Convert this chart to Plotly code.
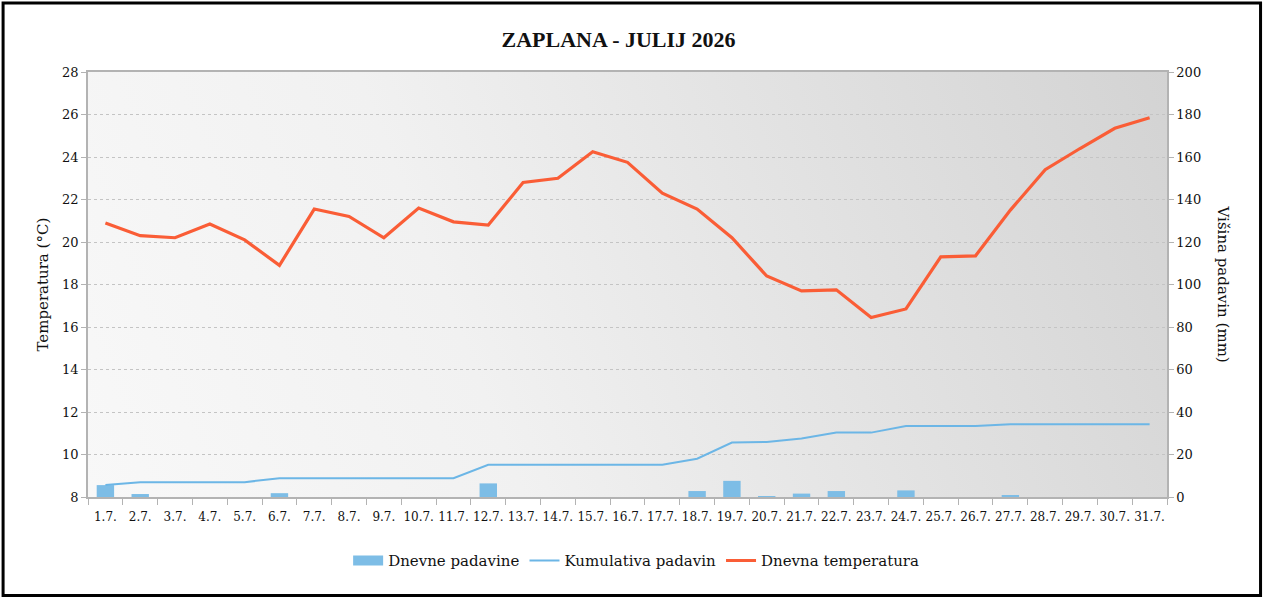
import base64
import plotly.graph_objects as go

days = ["1.7.", "2.7.", "3.7.", "4.7.", "5.7.", "6.7.", "7.7.", "8.7.", "9.7.", "10.7.",
        "11.7.", "12.7.", "13.7.", "14.7.", "15.7.", "16.7.", "17.7.", "18.7.", "19.7.", "20.7.",
        "21.7.", "22.7.", "23.7.", "24.7.", "25.7.", "26.7.", "27.7.", "28.7.", "29.7.", "30.7.", "31.7."]

daily_rain = [5.6, 1.4, 0, 0, 0, 1.8, 0, 0, 0, 0,
              0, 6.4, 0, 0, 0, 0, 0, 2.8, 7.6, 0.3,
              1.6, 2.8, 0, 3.1, 0, 0, 0.8, 0, 0, 0, 0]

cumulative_rain = [5.6, 7.0, 7.0, 7.0, 7.0, 8.8, 8.8, 8.8, 8.8, 8.8,
                   8.8, 15.2, 15.2, 15.2, 15.2, 15.2, 15.2, 18.0, 25.6, 25.9,
                   27.5, 30.3, 30.3, 33.4, 33.4, 33.4, 34.2, 34.2, 34.2, 34.2, 34.2]

temperature = [20.9, 20.3, 20.2, 20.85, 20.1, 18.9, 21.55, 21.2, 20.2, 21.6,
               20.95, 20.8, 22.8, 23.0, 24.25, 23.75, 22.3, 21.55, 20.2, 18.4,
               17.7, 17.75, 16.45, 16.85, 19.3, 19.35, 21.5, 23.4, 24.4, 25.35, 25.85]

FONT = "DejaVu Serif"
TITLE_FONT = "Liberation Serif"
TXT = "#111111"
AXC = "#b3b3b3"
BAR_COLOR = "#7dbde6"

fig = go.Figure()
fig.add_trace(go.Bar(x=days, y=daily_rain, name="Dnevne padavine", yaxis="y2", showlegend=False,
                     marker=dict(color=BAR_COLOR, line=dict(width=0)), width=0.5))
# legend swatch for bars (wide rectangle like the reference)
fig.add_trace(go.Scatter(x=[None], y=[None], name="Dnevne padavine", yaxis="y2", mode="lines",
                         line=dict(color=BAR_COLOR, width=12), hoverinfo="skip"))
fig.add_trace(go.Scatter(x=days, y=cumulative_rain, name="Kumulativa padavin", yaxis="y2",
                         mode="lines", line=dict(color="#6cb6e6", width=2)))
fig.add_trace(go.Scatter(x=days, y=temperature, name="Dnevna temperatura", yaxis="y",
                         mode="lines", line=dict(color="#fa5d36", width=3.2)))

svg = ("<svg xmlns='http://www.w3.org/2000/svg' width='1079' height='425' viewBox='0 0 1079 425' "
       "preserveAspectRatio='none'><defs><linearGradient id='g' gradientUnits='userSpaceOnUse' "
       "x1='0' y1='425' x2='1079' y2='0'><stop offset='0' stop-color='#f8f8f8'/>"
       "<stop offset='0.35' stop-color='#f1f1f1'/>"
       "<stop offset='1' stop-color='#d3d3d3'/></linearGradient></defs>"
       "<rect x='0' y='0' width='1079' height='425' fill='url(#g)'/></svg>")
src = "data:image/svg+xml;base64," + base64.b64encode(svg.encode()).decode()

fig.update_layout(
    width=1265, height=600,
    margin=dict(l=88, r=98, t=72, b=103),
    paper_bgcolor="white", plot_bgcolor="rgba(0,0,0,0)",
    font=dict(family=FONT, color=TXT, size=13),
    title=dict(text="<b>ZAPLANA - JULIJ 2026</b>", x=0.489, xanchor="center", y=0.935, yanchor="middle",
               font=dict(family=TITLE_FONT, size=22, color="#111111")),
    showlegend=True,
    legend=dict(orientation="h", x=0.508, xanchor="center", y=-0.15, yanchor="middle",
                font=dict(family=FONT, size=15, color="#111111"),
                bgcolor="rgba(0,0,0,0)", traceorder="normal"),
    xaxis=dict(type="category", showline=True, linecolor=AXC, linewidth=1.5, mirror=True,
               ticks="outside", tickson="boundaries", ticklen=6, tickcolor=AXC, tickangle=0,
               ticklabelstandoff=8,
               showgrid=False, tickfont=dict(size=12, color="#111111")),
    yaxis=dict(range=[8, 28], dtick=2, showline=True, linecolor=AXC, linewidth=1.5,
               ticks="outside", ticklen=5, tickcolor=AXC, showgrid=True, gridcolor="#c4c4c4",
               griddash="dot", gridwidth=1, zeroline=False,
               tickfont=dict(size=13, color="#111111")),
    yaxis2=dict(range=[0, 200], dtick=20, overlaying="y", side="right", showline=True,
                linecolor=AXC, linewidth=1.5, ticks="outside", ticklen=5, tickcolor=AXC,
                showgrid=False, zeroline=False, tickfont=dict(size=13, color="#111111")),
    images=[dict(source=src, xref="paper", yref="paper", x=0, y=1, sizex=1, sizey=1,
                 sizing="stretch", xanchor="left", yanchor="top", layer="below")],
    shapes=[dict(type="rect", xref="paper", yref="paper", x0=-0.0787, x1=1.0867, y0=-0.2318, y1=1.1624,
                 line=dict(color="black", width=3), fillcolor="rgba(0,0,0,0)", layer="above")],
    annotations=[
        dict(text="Temperatura (°C)", xref="paper", yref="paper", x=-0.0426, y=0.5,
             xanchor="center", yanchor="middle",
             textangle=-90, showarrow=False, font=dict(family=FONT, size=15, color="#111111")),
        dict(text="Višina padavin (mm)", xref="paper", yref="paper", x=1.0528, y=0.5,
             xanchor="center", yanchor="middle",
             textangle=90, showarrow=False, font=dict(family=FONT, size=15, color="#111111")),
    ],
)

fig.write_html("out.html", config={"displayModeBar": False},
               post_script="document.body.style.margin='0';document.body.style.overflow='hidden';")
